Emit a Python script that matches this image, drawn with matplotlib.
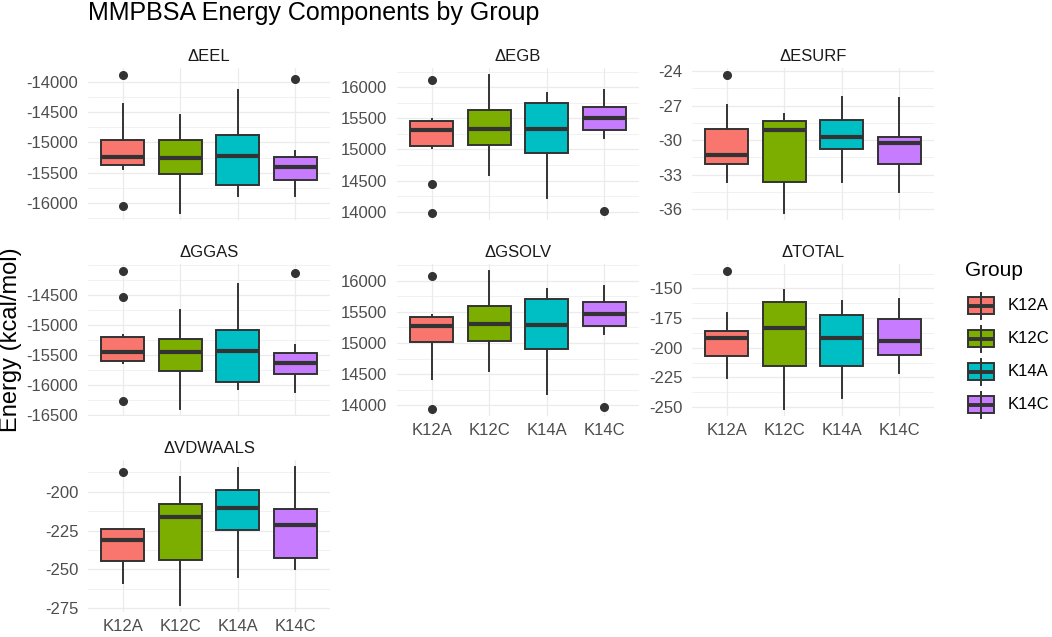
import numpy as np
import matplotlib
matplotlib.use("Agg")
import matplotlib.pyplot as plt
from matplotlib.ticker import FixedLocator, AutoMinorLocator
from matplotlib.patches import Rectangle
from matplotlib.lines import Line2D

plt.rcParams['font.family'] = ['Liberation Sans', 'DejaVu Sans']

# groups and colours (ggplot hue palette)
groups = ['K12A', 'K12C', 'K14A', 'K14C']
colors = ['#F8766D', '#7CAE00', '#00BFC4', '#C77CFF']

# box summaries per group: whisker low, q1, median, q3, whisker high
eel_stats = [[-15436, -15377, -15234, -14961, -14366],
             [-16163, -15519, -15251, -14961, -14551],
             [-15884, -15699, -15224, -14879, -14142],
             [-15884, -15623, -15404, -15240, -15136]]
eel_out = [[-13890, -16049], [], [], [-13951]]

egb_stats = [[15020, 15047, 15318, 15451, 15489],
             [14589, 15063, 15334, 15633, 16196],
             [14217, 14935, 15323, 15749, 15904],
             [15186, 15308, 15499, 15681, 15952]]
egb_out = [[16116, 14452, 13978], [], [], [14005]]

esurf_stats = [[-33.64, -32.06, -31.25, -29.03, -26.96],
               [-36.32, -33.64, -29.09, -28.32, -27.71],
               [-33.64, -30.73, -29.76, -28.23, -26.27],
               [-34.50, -32.09, -30.22, -29.76, -26.36]]
esurf_out = [[-24.35], [], [], []]

ggas_stats = [[-15639, -15595, -15455, -15205, -15167],
              [-16405, -15762, -15455, -15228, -14750],
              [-16072, -15945, -15433, -15083, -14317],
              [-16111, -15817, -15633, -15461, -15333]]
ggas_out = [[-14095, -14528, -16278], [], [], [-14122]]

gsolv_stats = [[14427, 15013, 15280, 15419, 15456],
               [14549, 15029, 15301, 15600, 16160],
               [14176, 14901, 15285, 15712, 15867],
               [15152, 15275, 15467, 15653, 15925]]
gsolv_out = [[16085, 13936], [], [], [13973]]

total_stats = [[-225.6, -206.9, -192.0, -186.1, -171.0],
               [-251.7, -215.0, -183.1, -161.5, -151.4],
               [-242.4, -215.5, -192.0, -172.4, -160.4],
               [-221.4, -206.1, -194.0, -175.8, -159.0]]
total_out = [[-135.2], [], [], []]

vdw_stats = [[-258.5, -244.6, -231.1, -224.0, -224.0],
             [-273.0, -243.9, -216.1, -207.5, -190.7],
             [-254.6, -224.6, -210.7, -199.1, -184.3],
             [-249.5, -242.8, -221.4, -211.3, -183.9]]
vdw_out = [[-187.1], [], [], []]

# y tick values per panel
eel_ticks = [-16000, -15500, -15000, -14500, -14000]
egb_ticks = [14000, 14500, 15000, 15500, 16000]
esurf_ticks = [-36, -33, -30, -27, -24]
ggas_ticks = [-16500, -16000, -15500, -15000, -14500]
gsolv_ticks = [14000, 14500, 15000, 15500, 16000]
total_ticks = [-250, -225, -200, -175, -150]
vdw_ticks = [-275, -250, -225, -200]

panels = [
    ('ΔEEL', eel_stats, eel_out, eel_ticks, 0, 0, False),
    ('ΔEGB', egb_stats, egb_out, egb_ticks, 0, 1, False),
    ('ΔESURF', esurf_stats, esurf_out, esurf_ticks, 0, 2, False),
    ('ΔGGAS', ggas_stats, ggas_out, ggas_ticks, 1, 0, False),
    ('ΔGSOLV', gsolv_stats, gsolv_out, gsolv_ticks, 1, 1, True),
    ('ΔTOTAL', total_stats, total_out, total_ticks, 1, 2, True),
    ('ΔVDWAALS', vdw_stats, vdw_out, vdw_ticks, 2, 0, True),
]

W, H = 1052, 637
fig = plt.figure(figsize=(W / 100, H / 100), dpi=100)

col_x = [88, 397, 692]
row_y = [68, 264, 460]
pw, ph = 242, 152

EDGE = '#333333'
GRID = '#EBEBEB'
SMALL = 12

for title, stats, outs, ticks, r, c, show_x in panels:
    ax = fig.add_axes([col_x[c] / W, 1 - (row_y[r] + ph) / H, pw / W, ph / H])
    bstats = []
    for g, s, o in zip(groups, stats, outs):
        bstats.append({'whislo': s[0], 'q1': s[1], 'med': s[2], 'q3': s[3],
                       'whishi': s[4], 'fliers': o, 'label': g})
    bp = ax.bxp(bstats, positions=np.arange(1, 5), widths=0.75,
                patch_artist=True, showcaps=False,
                boxprops=dict(edgecolor=EDGE, linewidth=1.4),
                medianprops=dict(color=EDGE, linewidth=3.0, solid_capstyle='butt'),
                whiskerprops=dict(color=EDGE, linewidth=1.4),
                flierprops=dict(marker='o', markerfacecolor=EDGE,
                                markeredgecolor=EDGE, markersize=5.5))
    for patch, col in zip(bp['boxes'], colors):
        patch.set_facecolor(col)

    ax.set_xlim(0.4, 4.6)
    ax.margins(y=0.05)
    ax.set_xticks(np.arange(1, 5))
    ax.set_xticklabels(groups if show_x else [])
    ax.yaxis.set_major_locator(FixedLocator(ticks))
    ax.yaxis.set_minor_locator(AutoMinorLocator(2))
    ax.set_yticklabels([str(t) for t in ticks])

    ax.set_axisbelow(True)
    ax.grid(True, which='major', color=GRID, linewidth=0.9)
    ax.grid(True, which='minor', axis='y', color=GRID, linewidth=0.5)
    for sp in ax.spines.values():
        sp.set_visible(False)
    ax.tick_params(axis='both', which='both', length=0, labelsize=SMALL,
                   labelcolor='#4D4D4D')
    ax.tick_params(axis='y', pad=7)
    ax.tick_params(axis='x', pad=5)
    ax.set_title(title, fontsize=SMALL, color='#1A1A1A', pad=5)

# titles
fig.text(88 / W, 1 - 20 / H, 'MMPBSA Energy Components by Group',
         fontsize=18, ha='left', va='baseline', color='black')
fig.text(11 / W, 1 - 340 / H, 'Energy (kcal/mol)', fontsize=17,
         rotation=90, ha='center', va='center', color='black')

# legend drawn as small box glyphs
lax = fig.add_axes([0, 0, 1, 1], facecolor='none')
lax.set_xlim(0, W)
lax.set_ylim(H, 0)
lax.axis('off')
lax.text(965, 271, 'Group', fontsize=15, ha='left', va='center')
key_y = [305.5, 338.5, 371.5, 404.5]
for g, col, yc in zip(groups, colors, key_y):
    lax.add_line(Line2D([981, 981], [yc - 13, yc + 13], color=EDGE, lw=1.4))
    lax.add_patch(Rectangle((968, yc - 8.5), 26, 17, facecolor=col,
                            edgecolor=EDGE, linewidth=1.4))
    lax.add_line(Line2D([968, 994], [yc, yc], color=EDGE, lw=2.8,
                        solid_capstyle='butt'))
    lax.text(1008, yc, g, fontsize=SMALL, ha='left', va='center', color='black')

fig.savefig('out.png', dpi=100, facecolor='white')
